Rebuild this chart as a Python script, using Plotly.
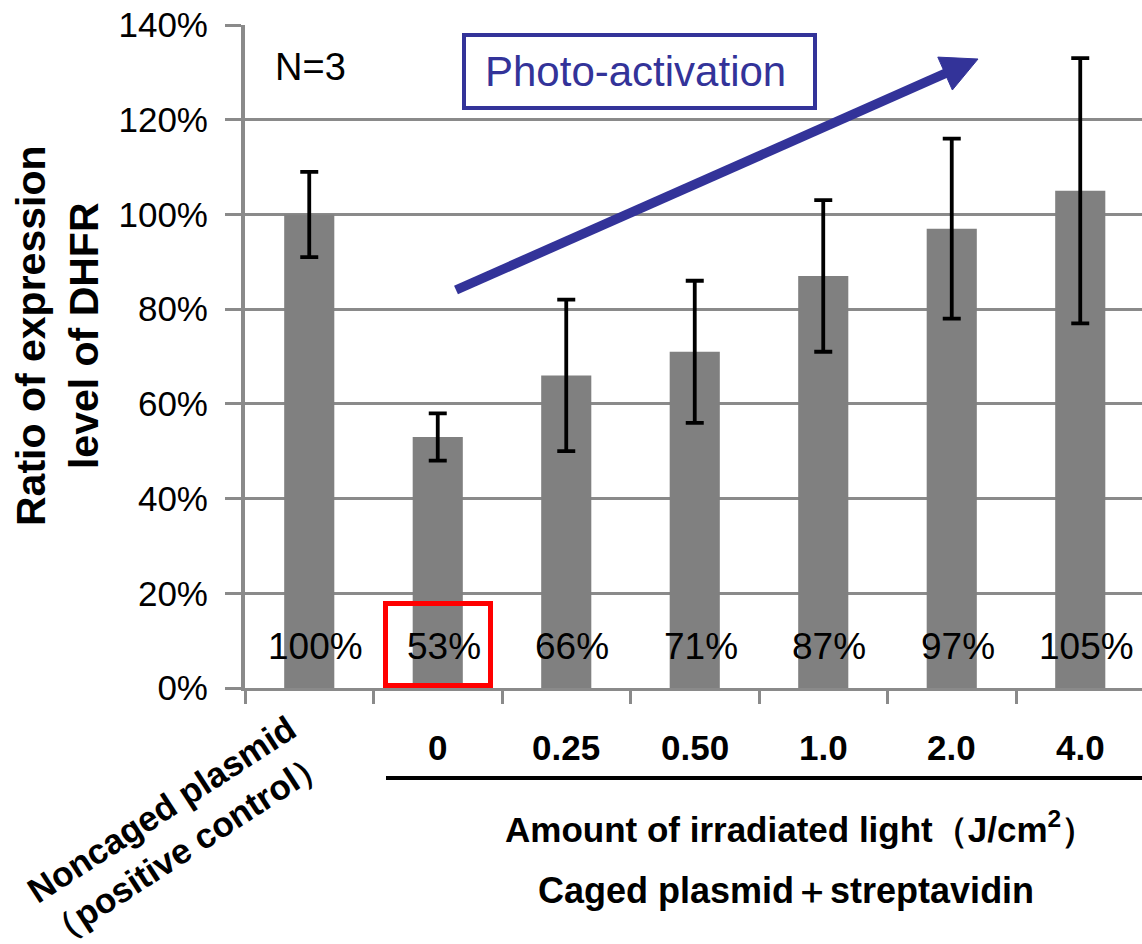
import plotly.graph_objects as go

# ---- data -------------------------------------------------------------
categories = ["Noncaged plasmid<br>（positive control）", "0", "0.25", "0.50", "1.0", "2.0", "4.0"]
ratio_pct = [100, 53, 66, 71, 87, 97, 105]
error_pct = [9, 5, 16, 15, 16, 19, 28]
y_ticks = [0, 20, 40, 60, 80, 100, 120, 140]
y_tick_text = [f"{v}%" for v in y_ticks]

# ---- canvas geometry --------------------------------------------------
W, H = 1142, 944
L, R, T, B = 245, 0, 25, 256
PW, PH = W - L - R, H - T - B
CAT_PX = 128.5  # pixel width of one category slot

def px(x):
    """pixel x -> paper x"""
    return (x - L) / PW

def py(y):
    """pixel y (from top) -> paper y"""
    return (H - B - y) / PH

FONT = "Liberation Sans, Arial, sans-serif"
GRID = "#8a8a8a"
BAR = "#808080"
BLUE = "#333399"

fig = go.Figure()
fig.add_trace(go.Bar(
    x=categories,
    y=ratio_pct,
    width=0.39,
    marker=dict(color=BAR, line=dict(width=0)),
    error_y=dict(type="data", array=error_pct, visible=True,
                 color="black", thickness=3.8, width=9),
    hoverinfo="skip",
))

annotations = []

# value labels near the base of each bar (category index positions)
for i, v in enumerate(ratio_pct):
    annotations.append(dict(
        x=i, y=8.7, xref="x", yref="y", text=f"{v}%", showarrow=False,
        xanchor="center", yanchor="middle", xshift=6,
        font=dict(family=FONT, size=37, color="black"),
    ))

# light-dose labels under the caged-plasmid bars
for i, c in enumerate(categories):
    if i == 0:
        continue
    annotations.append(dict(
        x=i, y=py(748), xref="x", yref="paper", text=f"<b>{c}</b>",
        showarrow=False, xanchor="center", yanchor="middle",
        font=dict(family=FONT, size=35, color="black"),
    ))

# rotated label for the control bar
annotations.append(dict(
    x=px(174), y=py(829), xref="paper", yref="paper",
    text="<b>" + categories[0] + "</b>", showarrow=False, textangle=-33,
    xanchor="center", yanchor="middle", align="center",
    font=dict(family=FONT, size=35, color="black"),
))

annotations += [
    dict(x=px(800), y=py(827), xref="paper", yref="paper",
         text="<b>Amount of irradiated light（J/cm<sup>2</sup>）</b>",
         showarrow=False, xanchor="center", yanchor="middle",
         font=dict(family=FONT, size=35, color="black")),
    dict(x=px(786), y=py(890), xref="paper", yref="paper",
         text="<b>Caged plasmid＋streptavidin</b>",
         showarrow=False, xanchor="center", yanchor="middle",
         font=dict(family=FONT, size=36, color="black")),
    dict(x=px(57), y=py(336), xref="paper", yref="paper",
         text="<b>Ratio of expression<br>level of DHFR</b>",
         showarrow=False, textangle=-90, xanchor="center", yanchor="middle",
         font=dict(family=FONT, size=41, color="black")),
    dict(x=px(310), y=py(67), xref="paper", yref="paper", text="N=3",
         showarrow=False, xanchor="center", yanchor="middle",
         font=dict(family=FONT, size=38, color="black")),
    dict(x=px(635), y=py(72), xref="paper", yref="paper", text="Photo-activation",
         showarrow=False, xanchor="center", yanchor="middle",
         font=dict(family=FONT, size=42, color=BLUE)),
]

# arrow geometry (pixels)
tail = (456, 290)
tip = (978, 59)
dx, dy = tip[0] - tail[0], tip[1] - tail[1]
ln = (dx * dx + dy * dy) ** 0.5
ux, uy = dx / ln, dy / ln
nx, ny = -uy, ux
head_len, head_half = 36, 18
base = (tip[0] - head_len * ux, tip[1] - head_len * uy)
b1 = (base[0] + head_half * nx, base[1] + head_half * ny)
b2 = (base[0] - head_half * nx, base[1] - head_half * ny)
shaft_end = (base[0] + 4 * ux, base[1] + 4 * uy)

shapes = [
    # red highlight around the 0 J/cm2 value
    dict(type="rect", xref="paper", yref="paper",
         x0=px(385.5), x1=px(490.5), y0=py(685.5), y1=py(603.5),
         line=dict(color="#ff0000", width=5), layer="above"),
    # Photo-activation frame
    dict(type="rect", xref="paper", yref="paper",
         x0=px(464), x1=px(815), y0=py(108), y1=py(35),
         line=dict(color=BLUE, width=4), fillcolor="white", layer="above"),
    # arrow shaft
    dict(type="line", xref="paper", yref="paper",
         x0=px(tail[0]), y0=py(tail[1]), x1=px(shaft_end[0]), y1=py(shaft_end[1]),
         line=dict(color=BLUE, width=9.5), layer="above"),
    # arrow head
    dict(type="path", xref="paper", yref="paper",
         path=(f"M {px(tip[0])} {py(tip[1])} L {px(b1[0])} {py(b1[1])} "
               f"L {px(b2[0])} {py(b2[1])} Z"),
         fillcolor=BLUE, line=dict(color=BLUE, width=1), layer="above"),
    # rule under the light-dose labels
    dict(type="line", xref="paper", yref="paper",
         x0=px(386), x1=1.0, y0=py(778), y1=py(778),
         line=dict(color="black", width=4)),
]

fig.update_layout(
    width=W, height=H,
    margin=dict(l=L, r=R, t=T, b=B, pad=0),
    paper_bgcolor="white", plot_bgcolor="white",
    showlegend=False,
    bargap=0.6,
    annotations=annotations,
    shapes=shapes,
    xaxis=dict(
        type="category", range=[-0.5, -0.5 + PW / CAT_PX],
        showgrid=False, showticklabels=False, zeroline=False,
        showline=True, linecolor=GRID, linewidth=3,
        ticks="outside", tickson="boundaries", ticklen=13,
        tickwidth=3, tickcolor=GRID,
    ),
    yaxis=dict(
        range=[0, 140], tickvals=y_ticks, ticktext=y_tick_text,
        showgrid=True, gridcolor=GRID, gridwidth=3, zeroline=False,
        showline=True, linecolor=GRID, linewidth=4,
        ticks="outside", ticklen=16, tickwidth=3, tickcolor=GRID,
        ticklabelstandoff=10,
        tickfont=dict(family=FONT, size=35, color="black"),
    ),
)

fig.write_html("out.html")
